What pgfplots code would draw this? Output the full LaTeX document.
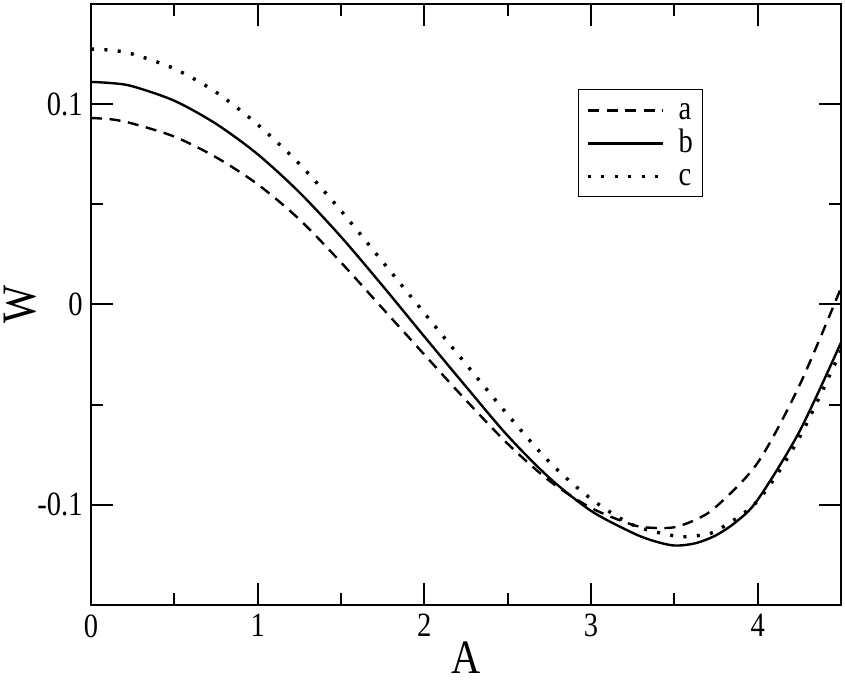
\documentclass[border=0pt]{standalone}
\usepackage{fontspec}
\setmainfont{Liberation Serif}
\newfontfamily\condfont{Liberation Serif}[FakeStretch=0.84]
\usepackage{pgfplots}
\pgfplotsset{compat=1.18}
\begin{document}
\begin{tikzpicture}
\begin{axis}[
  scale only axis, width=375bp, height=300.5bp,
  xmin=0, xmax=4.5, ymin=-0.15, ymax=0.15,
  axis line style={line width=1bp},
  tick pos=both, tick align=inside,
  xtick={0,1,2,3,4}, xticklabels={0,1,2,3,4},
  minor xtick={0.5,1.5,2.5,3.5},
  ytick={-0.1,0,0.1}, yticklabels={-0.1,0,0.1},
  minor ytick={-0.05,0.05},
  major tick length=11bp, minor tick length=6bp,
  every tick/.style={black, line width=1bp},
  tick label style={font=\condfont\fontsize{17bp}{17bp}\selectfont, inner sep=0pt},
  xticklabel style={anchor=north, yshift=-4.5bp},
  yticklabel style={anchor=east, xshift=-4bp},
  xlabel={A}, ylabel={W},
  label style={font=\condfont\fontsize{24bp}{24bp}\selectfont, inner sep=0pt},
  xlabel style={at={(axis description cs:0.5,0)}, anchor=base, yshift=-34bp},
  ylabel style={at={(axis description cs:-0.094,0.5)}, anchor=center},
  legend style={at={(0.649,0.858)}, anchor=north west, draw=black, line width=0.5bp,
    inner xsep=4bp, inner ysep=2bp,
    font=\condfont\fontsize{17bp}{17bp}\selectfont,
    row sep=0pt, column sep=6bp,
    nodes={inner sep=1bp, text height=12bp, text depth=2.5bp}},
  legend cell align=left,
  legend image code/.code={\draw[#1] (0bp,0bp) -- (37.5bp,0bp);},
]
\addplot[black, line width=1.2bp, dash pattern=on 5.5bp off 3.8bp, smooth] table {
x y
0 0.0931
0.125 0.0924
0.25 0.0903
0.5 0.0838
0.75 0.0735
1 0.0600
1.25 0.0425
1.5 0.0210
1.75 -0.0020
2 -0.0250
2.25 -0.0478
2.5 -0.0695
2.75 -0.0880
3 -0.1015
3.25 -0.1100
3.375 -0.1115
3.5 -0.1112
3.625 -0.1075
3.75 -0.1010
4 -0.0790
4.25 -0.0405
4.5 0.0083
};
\addlegendentry{a}
\addplot[black, line width=1.2bp, smooth] table {
x y
0 0.1111
0.125 0.1105
0.25 0.1089
0.5 0.1017
0.75 0.0902
1 0.0750
1.25 0.0560
1.5 0.0338
1.75 0.0093
2 -0.0160
2.25 -0.0410
2.5 -0.0655
2.75 -0.0865
3 -0.1030
3.25 -0.1140
3.375 -0.1180
3.5 -0.1203
3.625 -0.1192
3.75 -0.1152
3.875 -0.1082
4 -0.0975
4.25 -0.0635
4.5 -0.0190
};
\addlegendentry{b}
\addplot[black, line width=1.7bp, dash pattern=on 1.5bp off 5.2bp, smooth] table {
x y
0 0.1275
0.125 0.1269
0.25 0.1250
0.5 0.1177
0.75 0.1060
1 0.0898
1.25 0.0702
1.5 0.0468
1.75 0.0213
2 -0.0043
2.25 -0.0298
2.5 -0.0550
2.75 -0.0786
3 -0.0970
3.25 -0.1100
3.5 -0.1155
3.625 -0.1155
3.75 -0.1130
4 -0.0980
4.25 -0.0665
4.5 -0.0230
};
\addlegendentry{c}
\coordinate (bl) at (rel axis cs:0,0);
\coordinate (tr) at (rel axis cs:1,1);
\end{axis}
\path ([xshift=-45.5bp,yshift=-38.5bp]bl) rectangle ([xshift=2bp,yshift=2bp]tr);
\end{tikzpicture}
\end{document}
